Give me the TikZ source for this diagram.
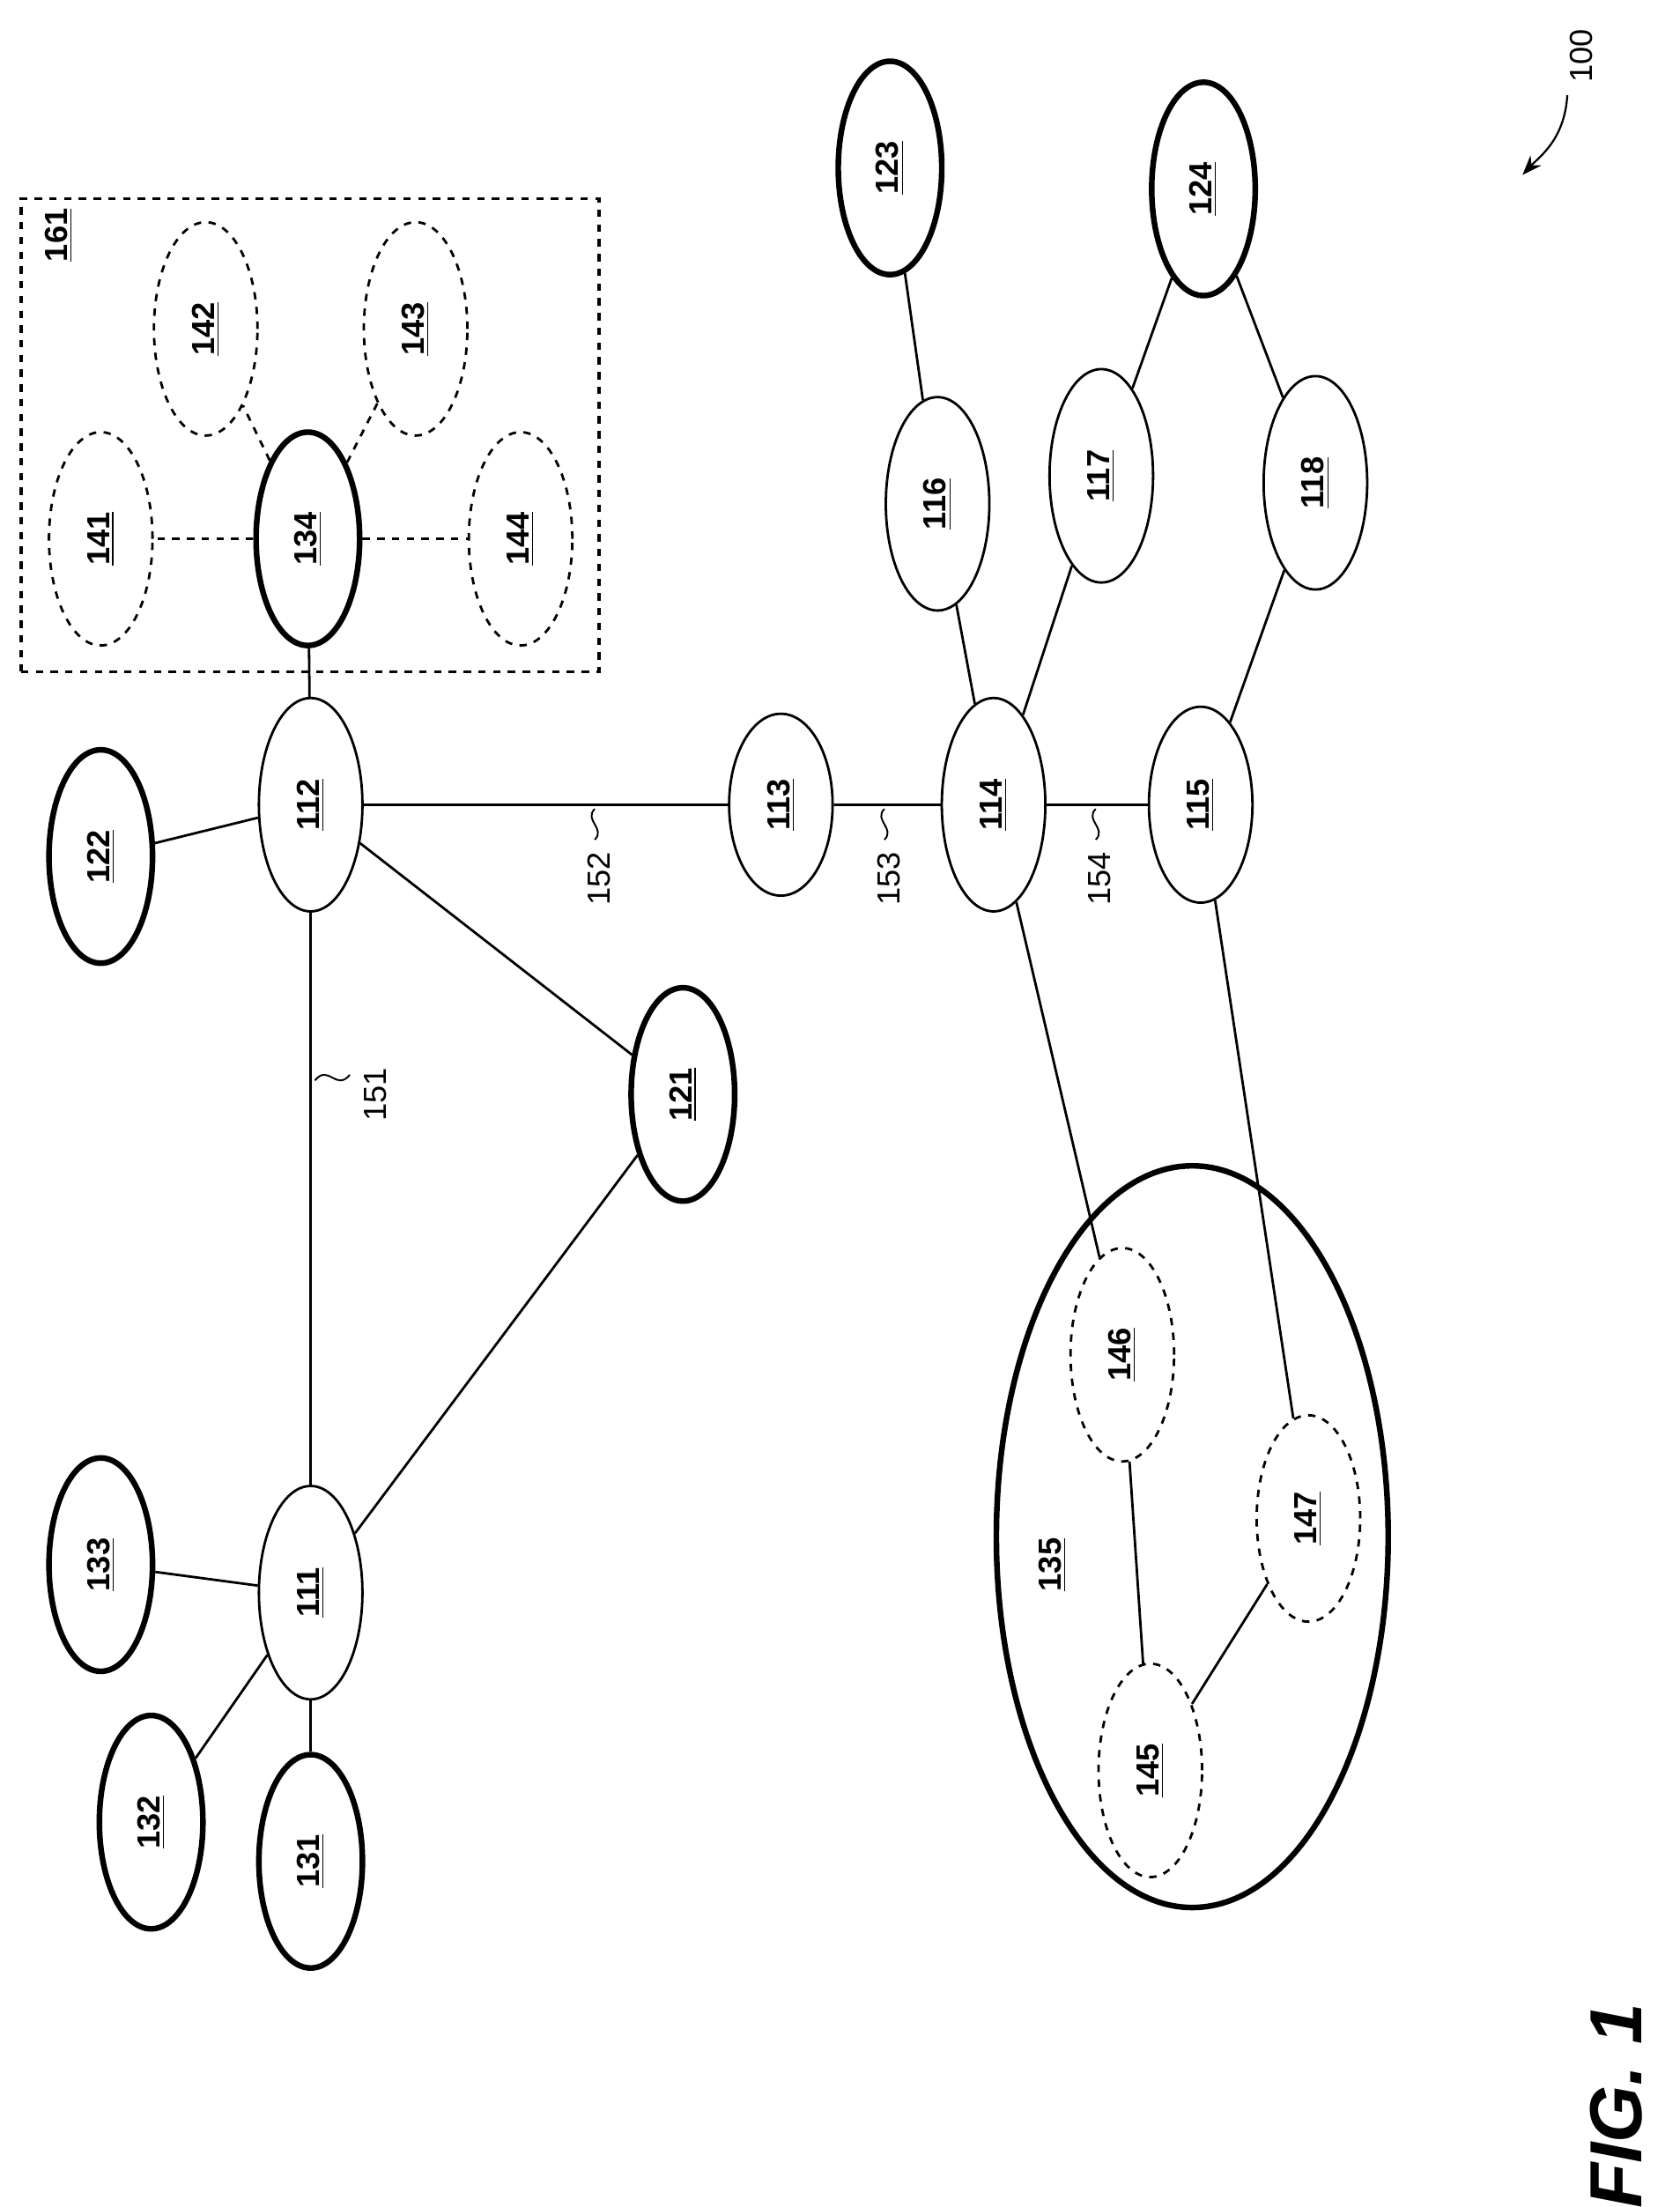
\documentclass[tikz,border=0pt]{standalone}
\usepackage{fontspec}
\setmainfont{Liberation Sans}
\usetikzlibrary{shapes.geometric,arrows.meta}
\begin{document}
\begin{tikzpicture}[x=0.02cm,y=-0.02cm,
  lbl/.style={font=\fontsize{13}{15}\selectfont\bfseries, rotate=90},
  nd/.style={ellipse, draw, line width=1pt, minimum width=1.48cm, minimum height=3.05cm, inner sep=0pt},
  tk/.style={nd, line width=2.3pt},
  ds/.style={nd, dashed},
  ed/.style={line width=1pt},
  sq/.style={line width=0.7pt},
  num/.style={font=\fontsize{13}{15}\selectfont, rotate=90}]
\useasboundingbox (0,0) rectangle (1200,1577);
\newcommand{\U}[1]{\underline{#1}}
% nodes
\node[nd] (111) at (222,1138) {}; \node[lbl] at (111) {\U{111}};
\node[nd] (112) at (222,575) {}; \node[lbl] at (112) {\U{112}};
\node[nd, minimum height=2.6cm] (113) at (558,575) {}; \node[lbl] at (113) {\U{113}};
\node[nd] (114) at (710,575) {}; \node[lbl] at (114) {\U{114}};
\node[nd, minimum height=2.8cm] (115) at (858,575) {}; \node[lbl] at (115) {\U{115}};
\node[nd] (116) at (670,360) {}; \node[lbl] at (116) {\U{116}};
\node[nd] (117) at (787,340) {}; \node[lbl] at (117) {\U{117}};
\node[nd] (118) at (940,345) {}; \node[lbl] at (118) {\U{118}};
\node[tk] (121) at (488,782) {}; \node[lbl] at (121) {\U{121}};
\node[tk] (122) at (72,612) {}; \node[lbl] at (122) {\U{122}};
\node[tk] (123) at (636,120) {}; \node[lbl] at (123) {\U{123}};
\node[tk] (124) at (860,135) {}; \node[lbl] at (124) {\U{124}};
\node[tk] (131) at (222,1330) {}; \node[lbl] at (131) {\U{131}};
\node[tk] (132) at (108,1302) {}; \node[lbl] at (132) {\U{132}};
\node[tk] (133) at (72,1118) {}; \node[lbl] at (133) {\U{133}};
\node[tk] (134) at (220,385) {}; \node[lbl] at (134) {\U{134}};
\node[ds] (141) at (72,385) {}; \node[lbl] at (141) {\U{141}};
\node[ds] (142) at (147,235) {}; \node[lbl] at (142) {\U{142}};
\node[ds] (143) at (297,235) {}; \node[lbl] at (143) {\U{143}};
\node[ds] (144) at (372,385) {}; \node[lbl] at (144) {\U{144}};
\node[draw, dashed, line width=1.2pt, minimum width=413*0.02cm, minimum height=338*0.02cm, inner sep=0pt] (161) at (221.5,311) {};
\node[lbl] at (42,168) {\U{161}};
\node[ellipse, draw, line width=2.3pt, minimum width=280*0.02cm, minimum height=530*0.02cm, inner sep=0pt] (135) at (852,1098) {};
\node[lbl] at (752,1118) {\U{135}};
\node[ds] (145) at (822,1265) {}; \node[lbl] at (145) {\U{145}};
\node[ds] (146) at (802,968) {}; \node[lbl] at (146) {\U{146}};
\node[ds, minimum height=2.95cm] (147) at (935,1085) {}; \node[lbl] at (147) {\U{147}};
% edges
\foreach \a/\b in {111/112,111/121,111/133,111/132,111/131,112/122,112/121,112/134,112/113,113/114,114/115,114/116,114/117,115/118,116/123,117/124,118/124,114/146,115/147,146/145,145/147}
  \draw[ed] (\a) -- (\b);
\foreach \b in {141,142,143,144}
  \draw[ed, dashed] (134) -- (\b);
% edge labels
\coordinate (s151a) at (225,772); \coordinate (s151b) at (250,768);
\draw[sq] (s151a) .. controls (235,760) and (240,780) .. (s151b);
\node[num] (l151) at (268,782) {151};
\foreach \x/\t in {425/152,632/153,783/154}{
  \draw[sq] (\x,578) .. controls (\x-8,586) and (\x+8,592) .. (\x,600);
  \node[num] at (\x+3,628) {\t};
}
\node[num] (l100) at (1130,40) {100};
\coordinate (a100) at (1120,68); \coordinate (b100) at (1088,125);
\draw[line width=0.8pt, -{Stealth[length=8pt]}] (a100) .. controls (1118,100) and (1100,112) .. (b100);
\node[rotate=90, font=\fontsize{30}{36}\selectfont\bfseries\itshape] (fig) at (1155,1505) {FIG. 1};
\end{tikzpicture}
\end{document}
